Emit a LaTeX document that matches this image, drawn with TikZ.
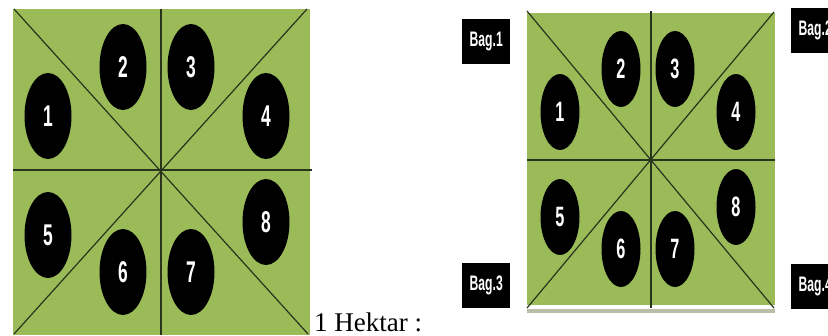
\documentclass[tikz,border=0pt]{standalone}
\usepackage{fontspec}
\setmainfont{Liberation Serif}
\newfontfamily\labelfont{Liberation Sans}
\usetikzlibrary{shapes.geometric}
\definecolor{field}{RGB}{155,187,89}
\definecolor{rowline}{RGB}{40,52,28}
\definecolor{edgegrey}{RGB}{184,190,168}
\tikzset{
  plotline/.style={draw=rowline, line width=1.2pt},
  holebig/.style={ellipse, fill=black, inner sep=0pt, minimum width=47pt, minimum height=86pt,
    text=white, font=\labelfont\bfseries\fontsize{30}{30}\selectfont},
  holesmall/.style={ellipse, fill=black, inner sep=0pt, minimum width=39pt, minimum height=76pt,
    text=white, font=\labelfont\bfseries\fontsize{28}{28}\selectfont},
  bagbox/.style={fill=black, text=white, inner sep=0pt, minimum width=48pt, minimum height=45pt,
    font=\labelfont\bfseries\fontsize{21}{21}\selectfont},
}
\newcommand{\narrow}[1]{\scalebox{0.58}[1]{#1}}
\begin{document}
\begin{tikzpicture}[x=1pt, y=-1pt]
  \clip (0,0) rectangle (828,335);
  \fill[white] (0,0) rectangle (828,335);

  % ---- left plot: one hectare ----
  \fill[field] (13,9) rectangle (310,335);
  \coordinate (LTL) at (14,9);   \coordinate (LTR) at (307,9);
  \coordinate (LBL) at (14,334); \coordinate (LBR) at (308,334);
  \coordinate (LTop) at (161,9); \coordinate (LBot) at (161,335);
  \coordinate (LLeft) at (13,170); \coordinate (LRight) at (312,170);
  \draw[plotline] (LTL) -- (LBR);
  \draw[plotline] (LTR) -- (LBL);
  \draw[plotline] (LTop) -- (LBot);
  \draw[plotline] (LLeft) -- (LRight);

  \node[holebig] (l1) at (48,116) {\narrow{1}};
  \node[holebig] (l2) at (123,67) {\narrow{2}};
  \node[holebig] (l3) at (191,67) {\narrow{3}};
  \node[holebig] (l4) at (266,116) {\narrow{4}};
  \node[holebig] (l5) at (48,235) {\narrow{5}};
  \node[holebig] (l6) at (123,272) {\narrow{6}};
  \node[holebig] (l7) at (191,272) {\narrow{7}};
  \node[holebig] (l8) at (266,222) {\narrow{8}};

  \node[anchor=base west, inner sep=0pt, font=\fontsize{27}{27}\selectfont] (ha) at (314,331.5) {1 Hektar :};

  % ---- right plot with its four corner sections ----
  \fill[edgegrey] (527,309) rectangle (775,313);
  \fill[field] (527,13) rectangle (775,305);
  \coordinate (RTL) at (527,11);  \coordinate (RTR) at (774,12);
  \coordinate (RBL) at (527,308); \coordinate (RBR) at (774,308);
  \coordinate (RTop) at (651,11); \coordinate (RBot) at (651,308);
  \coordinate (RLeft) at (527,160); \coordinate (RRight) at (775,160);
  \draw[plotline] (RTL) -- (RBR);
  \draw[plotline] (RTR) -- (RBL);
  \draw[plotline] (RTop) -- (RBot);
  \draw[plotline] (RLeft) -- (RRight);

  \node[holesmall] (r1) at (560,112) {\narrow{1}};
  \node[holesmall] (r2) at (621,69) {\narrow{2}};
  \node[holesmall] (r3) at (675,69) {\narrow{3}};
  \node[holesmall] (r4) at (736,112) {\narrow{4}};
  \node[holesmall] (r5) at (560,217) {\narrow{5}};
  \node[holesmall] (r6) at (621,249) {\narrow{6}};
  \node[holesmall] (r7) at (675,249) {\narrow{7}};
  \node[holesmall] (r8) at (736,207) {\narrow{8}};

  \node[bagbox, anchor=west] (b1) at (462,41) {\narrow{Bag.1}};
  \node[bagbox, anchor=west] (b3) at (462,285.5) {\narrow{Bag.3}};
  \node[bagbox, anchor=west] (b2) at (791,30.5) {\narrow{Bag.2}};
  \node[bagbox, anchor=west] (b4) at (791,286) {\narrow{Bag.4}};
\end{tikzpicture}
\end{document}
